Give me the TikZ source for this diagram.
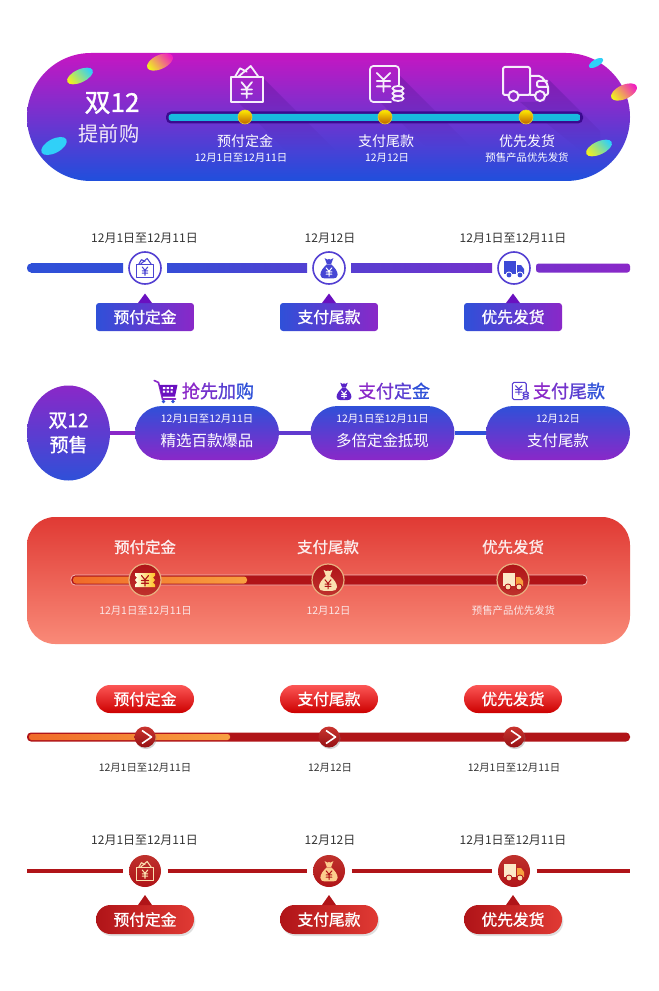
\documentclass[tikz,border=0pt]{standalone}
\usepackage{fontspec}
\setmainfont{Noto Sans CJK SC}
\newfontfamily\med[FakeBold=1.1]{Noto Sans CJK SC}
\usetikzlibrary{shapes.geometric,calc,shadows,fadings}
\definecolor{pA}{HTML}{C616C2}\definecolor{pB}{HTML}{1F4FDC}
\definecolor{blu}{HTML}{2F50D8}\definecolor{pur}{HTML}{8A28C8}\definecolor{tri}{HTML}{6A10C0}
\definecolor{trkD}{HTML}{3A0A90}\definecolor{cy}{HTML}{10E0E0}
\definecolor{rA}{HTML}{E03A34}\definecolor{rB}{HTML}{F98A78}
\definecolor{dred}{HTML}{B01418}\definecolor{org}{HTML}{F06A28}\definecolor{org2}{HTML}{F8A040}
\definecolor{tan}{HTML}{E8B080}\definecolor{cream}{HTML}{FBE0B0}\definecolor{ink}{HTML}{333333}
\definecolor{yel}{HTML}{F0F020}\definecolor{cyb}{HTML}{30D0F8}\definecolor{mag}{HTML}{F020C0}
\definecolor{shd}{HTML}{3A1080}
\newcommand\fsz[1]{\fontsize{#1}{#1}\selectfont}
\tikzset{
  px box/.style 2 args={minimum width=#1*0.75pt,minimum height=#2*0.75pt,inner sep=0pt,outer sep=0pt},
  lab/.style={inner sep=0pt,text=white},
  dateW/.style={lab,font=\fsz{7.8}},
  dateK/.style={inner sep=0pt,text=ink,font=\fsz{9}},
  dateS/.style={inner sep=0pt,text=ink,font=\fsz{7.8}},
  btnT/.style={text=white,font=\fsz{11.8}\med},
  ring/.style={circle,minimum size=32*0.75pt,inner sep=0pt,outer sep=0pt},
  heading/.style={inner sep=0pt,font=\fsz{13.5}\med},
  ico/.style={line cap=round,line join=round},
}
% Yen sign
\newcommand\yen[3]{\begin{scope}[shift={#1},scale=#2]\draw[ico,#3] (-5,-7)--(0,-1)--(5,-7) (0,-1)--(0,8) (-5,0)--(5,0) (-5,4)--(5,4);\end{scope}}
% box icon
\newcommand\iconbox[4]{\begin{scope}[shift={#1},scale=#2]
 \draw[ico,draw=#3,line width=#4,line join=round] (-16,-7) rectangle (16,18);
 \draw[ico,draw=#3,line width=#4] (-11.7,-7.3)--(-6.7,-15.7)--(0,-12.3) (-8.3,-7.3)--(4,-18)--(11.7,-7.3);
 \yen{(0,5.5)}{1.05}{draw=#3,line width=#4}
\end{scope}}
% money bag
\newcommand\iconbag[4]{\begin{scope}[shift={#1},scale=#2]
 \fill[#3] (-6,-15)--(-2,-13)--(0,-14)--(2,-13)--(6,-15)--(3,-7)--(-3,-7)--cycle;
 \fill[#3] (-3,-6.5) .. controls (-8,-2) and (-12,3) .. (-12,8) .. controls (-12,12) and (-9,13) .. (-6,13) -- (6,13) .. controls (9,13) and (12,12) .. (12,8) .. controls (12,3) and (8,-2) .. (3,-6.5) -- cycle;
 \yen{(0,4)}{.8}{draw=#4,line width=.75pt}
\end{scope}}
% receipt with coins
\newcommand\iconrcpt[4]{\begin{scope}[shift={#1},scale=#2]
 \draw[ico,draw=#3,line width=#4,rounded corners=#2*2.5pt] (13,1)--(13,-18)--(-16,-18)--(-16,18)--(5,18);
 \begin{scope}[shift={(-2.5,-3)},scale=1.35]\draw[ico,draw=#3,line width=#4] (-5,-6)--(0,-1)--(5,-6) (0,-1)--(0,8) (-5,0)--(5,0) (-5,4)--(5,4);\end{scope}
 \draw[draw=#3,line width=#4] (12,4.5) ellipse (5.5 and 2.5) (12,9.5) ellipse (5.5 and 2.5) (12,14.5) ellipse (5.5 and 2.5);
\end{scope}}
% outlined truck
\newcommand\icontruck[4]{\begin{scope}[shift={#1},scale=#2]
 \draw[ico,draw=#3,line width=#4,rounded corners=#2*1.5pt] (-18,11)--(-23,11)--(-23,-17)--(4,-17)--(4,11)--(-7,11);
 \draw[ico,draw=#3,line width=#4,rounded corners=#2*1.5pt] (4,-8)--(15,-8)--(22,1)--(22,11)--(19,11) (9,11)--(4,11) (21,-3)--(11,-3)--(11,3)--(22,3);
 \draw[draw=#3,line width=#4] (-12.5,12) circle (5) (14,12) circle (5);
\end{scope}}
% filled truck: position, cargo colour, cab colour, wheel colour, background colour
\newcommand\iconftruck[5]{\begin{scope}[shift={#1}]
 \fill[#2] (-10,-7) rectangle (2,6);
 \fill[#3] (3,-3)--(7,-3)--(10,1)--(10,6)--(3,6)--cycle;
 \fill[#5] (-5,7) circle (3.5) (6,7) circle (3.5);
 \fill[#4] (-5,7) circle (2.4) (6,7) circle (2.4);
\end{scope}}
% ticket
\newcommand\iconticket[1]{\begin{scope}[shift={#1}]
 \shade[left color=white!90!yellow,right color=orange!55!yellow!85] (-10,-7)--(10,-7)--(10,-4.5)--(8,-2.5)--(10,0)--(8,2.5)--(10,4.5)--(10,7)--(-10,7)--(-10,4.5)--(-8,2.5)--(-10,0)--(-8,-2.5)--(-10,-4.5)--cycle;
 \yen{(0,0.5)}{.7}{draw=dred,line width=.85pt}
\end{scope}}
% cart
\newcommand\iconcart[1]{\begin{scope}[shift={#1}]
 \draw[pur,line width=1.2pt,line cap=round] (-11.3,-10)--(-7,-8)--(-3,8.5)--(10,8.5);
 \fill[tri] (-6.4,-5.6)--(12,-5.6)--(9.5,6)--(-3.4,6)--cycle;
 \foreach \a in {-2.6,1.2,5} \fill[white] (\a,-3.5) rectangle +(2.4,2) (\a,0) rectangle +(2.2,2);
 \fill[blu] (-2,11) circle (1.9) (7.5,11) circle (1.9);
\end{scope}}
\begin{document}
\begin{tikzpicture}[x=0.75pt,y=-0.75pt]
\useasboundingbox (0,0) rectangle (658,991);
\fill[white] (0,0) rectangle (658,991);
%% ---------- Panel 1 ----------
\node[px box={603}{128},shade,top color=pA,bottom color=pB,rounded corners=64*0.75pt] (p1) at (328.5,117) {};
\fill[shd,opacity=.28,path fading=south] (263,78)--(335,150)--(285,150)--(238,102)--(263,102)--cycle;
\fill[shd,opacity=.28,path fading=south] (400,76)--(470,146)--(425,146)--(380,102)--(400,102)--cycle;
\fill[shd,opacity=.28,path fading=south] (549,80)--(600,131)--(600,150)--(580,150)--(520,102)--(545,102)--cycle;
\foreach \x/\y/\a/\b/\c/\d/\r in {80/76/14/6.5/cyb/yel/25,160/62/14/7/mag/yel/25,54/146/14/7/cyb/cyb/28,596/63/8/3.5/cyb/cyb/30,624/92/14/7/mag/yel/25,599/148/14/6.5/cyb/yel/25}
  \shade[top color=\c,bottom color=\d,shading angle=-50] (\x,\y) [rotate around={\r:(\x,\y)}] ellipse (\a*0.75pt and \b*0.75pt);
\node[lab,font=\fsz{19.5}\med] (t1) at (112,103) {双12};
\node[lab,text=white!90!pur,font=\fsz{15.2}] (t2) at (109,134) {提前购};
\node[px box={417}{12},fill=trkD,rounded corners=5*0.75pt] (trk) at (374.5,117.5) {};
\node[px box={412}{7},shade,top color=blu!25!cy,middle color=cy,bottom color=blu!30!cy,rounded corners=3*0.75pt] (trki) at (374.5,117.5) {};
\iconbox{(246.7,84)}{1}{white!92!pur}{1.35pt}
\iconrcpt{(386,84)}{1}{white!92!pur}{1.35pt}
\icontruck{(526,84)}{1}{white!92!pur}{1.5pt}
\foreach \n/\x in {a/245,b/385,c/526}
  \node[circle,minimum size=14*0.75pt,inner sep=0pt,top color=yellow!85!orange,bottom color=orange!75!black,draw=yellow!60!brown,line width=.5pt] (k\n) at (\x,117) {};
\node[lab,font=\fsz{10.5}] (l1) at (245,141) {预付定金};
\node[dateW] (d1) at (241,158) {12月1日至12月11日};
\node[lab,font=\fsz{10.5}] (l2) at (386,141) {支付尾款};
\node[dateW] (d2) at (387,158) {12月12日};
\node[lab,font=\fsz{10.5}] (l3) at (527,141) {优先发货};
\node[dateW] (d3) at (527,158) {预售产品优先发货};
%% ---------- Panel 2 ----------
\foreach \n/\x/\t in {a/144.5/12月1日至12月11日,b/330/12月12日,c/513/12月1日至12月11日}
  \node[dateK] (q\n) at (\x,238) {\t};
\foreach \n/\x/\c/\l in {a/145/145/预付定金,b/329/329/支付尾款,c/514/513/优先发货}{
  \node[ring,fill=white,draw=blu!60!pur,line width=1.2pt] (r\n) at (\x,268) {};
  \node[px box={98}{28},shade,left color=blu,right color=pur,rounded corners=3*0.75pt,btnT] (b\n) at (\c,317) {\l};
  \fill[tri] ($(b\n.north)+(-7,0)$)--($(b\n.north)+(0,-9.5)$)--($(b\n.north)+(7,0)$)--cycle;
}
\coordinate (cl) at (27,268);\coordinate (cr) at (630,268);
\fill[blu,rounded corners=3pt] (cl)++(0,-4.5) rectangle ++(15,9);
\shade[left color=blu,right color=blu!95!pur] ($(cl)+(4,-4.5)$) rectangle ($(ra.west)+(-6,4.5)$);
\shade[left color=blu!92!pur,right color=blu!62!pur] ($(ra.east)+(6,-4.5)$) rectangle ($(rb.west)+(-6,4.5)$);
\shade[left color=blu!55!pur,right color=blu!25!pur] ($(rb.east)+(6,-4.5)$) rectangle ($(rc.west)+(-6,4.5)$);
\shade[left color=blu!20!pur,right color=pur,rounded corners=2pt] ($(rc.east)+(6,-4.5)$) rectangle ($(cr)+(0,4.5)$);
\iconbox{(145,268)}{.53}{blu!70!pur}{.8pt}
\iconbag{(329,269)}{.72}{blu!75!pur}{white}
\iconftruck{(514,268)}{blu!85!pur}{blu!85!pur}{blu!85!pur}{white}
%% ---------- Panel 3 ----------
\node[ellipse,px box={83}{95},shade,top color=pur,bottom color=blu,text=white,align=center,font=\fontsize{14.2}{18.5}\selectfont\med] (m0) at (68.5,433) {双12\\预售};
\foreach \n/\x/\d/\t in {1/207/12月1日至12月11日/精选百款爆品,2/382.5/12月1日至12月11日/多倍定金抵现,3/558/12月12日/支付尾款}{
  \node[px box={144}{54},shade,top color=blu,bottom color=pur,rounded corners=27*0.75pt] (m\n) at (\x,433) {};
  \node[dateW] (md\n) at (\x,418.5) {\d};
  \node[lab,font=\fsz{11.6}] (mt\n) at (\x,441) {\t};
}
\draw[pur,line width=2.4pt] (m0) -- (m1);
\draw[blu!45!pur,line width=2.4pt] (m1) -- (m2);
\draw[blu,line width=2.4pt] (m2) -- (m3);
\node[heading] (h1) at (218,391) {\textcolor{pur}{抢}\textcolor{pur!75!blu}{先}\textcolor{pur!45!blu}{加}\textcolor{blu}{购}};
\node[heading] (h2) at (394,391) {\textcolor{pur}{支}\textcolor{pur!75!blu}{付}\textcolor{pur!45!blu}{定}\textcolor{blu}{金}};
\node[heading] (h3) at (569,391) {\textcolor{pur}{支}\textcolor{pur!75!blu}{付}\textcolor{pur!45!blu}{尾}\textcolor{blu}{款}};
\iconcart{(165.5,390.5)}
\iconbag{(344,392)}{.62}{tri!70!blu}{white}
\iconrcpt{(520,391)}{.48}{blu!55!pur}{.8pt}
%% ---------- Panel 4 ----------
\node[px box={603}{127},shade,top color=rA,bottom color=rB,rounded corners=28*0.75pt] (p4) at (328.5,580.5) {};
\node[px box={516}{10},fill=dred,draw=white!65!rA,line width=.6pt,rounded corners=4*0.75pt] (t4) at (329,580) {};
\node[px box={174}{7},shade,left color=org,right color=org2,rounded corners=3*0.75pt] (t4p) at (160,580) {};
\foreach \n/\x/\l/\d in {a/145/预付定金/12月1日至12月11日,b/328/支付尾款/12月12日,c/513/优先发货/预售产品优先发货}{
  \node[lab,font=\fsz{11.6}\med,text=white!92!rA] (g\n) at (\x,547) {\l};
  \node[ring,top color=dred,bottom color=rA!85!black,draw=tan,line width=.9pt] (e\n) at (\x,580) {};
  \node[dateW,text=white!88!rA] (f\n) at (\x+.5,611) {\d};
}
\iconticket{(145,580)}
\iconbag{(328,581)}{.75}{cream}{dred}
\iconftruck{(513,580)}{cream!70!white}{org2}{cream}{dred}
%% ---------- Panel 5 ----------
\node[px box={603}{9},fill=dred,rounded corners=4*0.75pt] (t5) at (328.5,737) {};
\node[px box={201}{6},shade,left color=org,right color=org2,rounded corners=2.5*0.75pt] (t5p) at (129.5,737) {};
\foreach \n/\x/\c/\l/\dx/\d in {a/145/145/预付定金/0/12月1日至12月11日,b/329/329/支付尾款/1/12月12日,c/514/513/优先发货/0/12月1日至12月11日}{
  \node[px box={98}{28},shade,top color=red!65!white!90!rA,bottom color=red!80!black,rounded corners=14*0.75pt,btnT] (u\n) at (\c,699) {\l};
  \node[circle,minimum size=21*0.75pt,inner sep=0pt,top color=rA!90!black,bottom color=dred!85!black,drop shadow={shadow xshift=.8pt,shadow yshift=-1.2pt,opacity=.35}] (v\n) at (\x,737) {};
  \draw[white,line width=1.2pt,line join=round] ($(v\n)+(-3,-6.5)$)--($(v\n)+(6.5,0)$)--($(v\n)+(-3,6.5)$);
  \node[dateS] (w\n) at (\x+\dx,768) {\d};
}
%% ---------- Panel 6 ----------
\foreach \n/\x/\t in {a/144.5/12月1日至12月11日,b/330/12月12日,c/513/12月1日至12月11日}
  \node[dateK] (x\n) at (\x,840) {\t};
\foreach \n/\x/\c/\l in {a/145/145/预付定金,b/329/329/支付尾款,c/514/513/优先发货}{
  \node[px box={98}{29},shade,left color=dred,right color=rA,rounded corners=14.5*0.75pt,btnT,drop shadow={shadow xshift=1pt,shadow yshift=-1.5pt,opacity=.25}] (y\n) at (\c,919.5) {\l};
  \fill[dred] ($(y\n.north)+(-7,0)$)--($(y\n.north)+(0,-10)$)--($(y\n.north)+(7,0)$)--cycle;
  \node[ring,top color=rA!85!black,bottom color=dred,outer sep=6.5*0.75pt] (z\n) at (\x,871) {};
}
\coordinate (el) at (27,871);\coordinate (er) at (630,871);
\draw[dred,line width=3pt] (el)--(za) (za)--(zb) (zb)--(zc) (zc)--(er);
\iconbox{(145,871)}{.53}{cream}{.8pt}
\iconbag{(329,872)}{.72}{cream!80!orange}{dred}
\iconftruck{(514,871)}{cream!70!white}{org2}{cream}{dred}
\end{tikzpicture}
\end{document}
